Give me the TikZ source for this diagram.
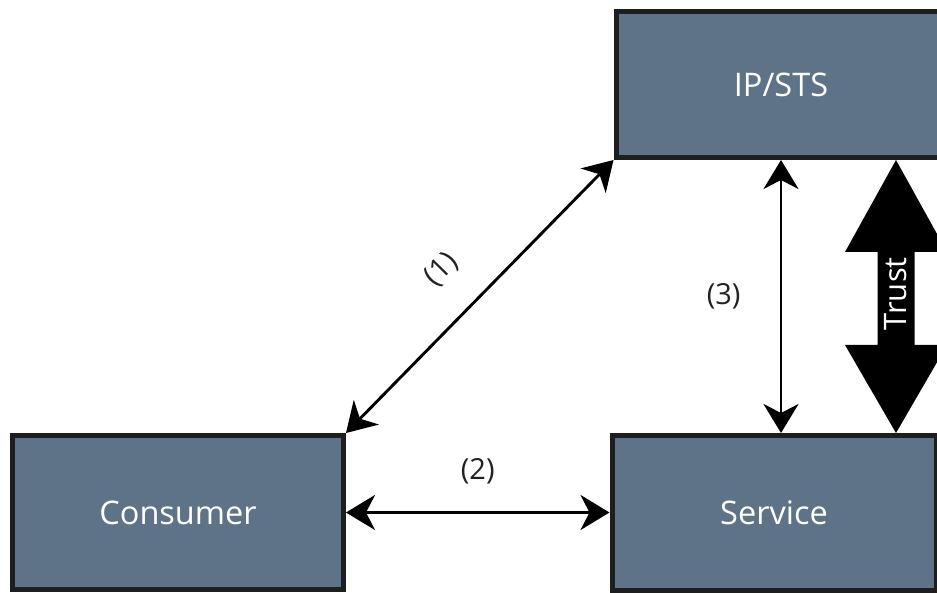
\documentclass[tikz,border=0pt]{standalone}
\usepackage{fontspec}
\setmainfont{Open Sans}
\usetikzlibrary{arrows.meta,calc}
\definecolor{boxfill}{HTML}{5E7388}
\definecolor{boxline}{HTML}{1E1E1E}
\definecolor{labelgray}{HTML}{222222}
\begin{document}
\begin{tikzpicture}[x=1pt,y=-1pt,
  box/.style={draw=boxline, line width=5pt, fill=boxfill, text=white,
    font=\fontsize{32.5}{38}\selectfont, inner sep=0pt},
  link/.style={line width=2.9pt, draw=black,
    {Stealth[length=29pt,width=35pt,inset=9pt]}-{Stealth[length=29pt,width=35pt,inset=9pt]}},
  lbl/.style={font=\fontsize{29}{34}\selectfont, text=labelgray, inner sep=0pt},
  trustlbl/.style={font=\fontsize{31}{36}\selectfont, text=white, inner sep=0pt}]
\useasboundingbox (0,0) rectangle (937,593);
\clip (0,0) rectangle (937,593);

% the three parties
\node[box, minimum width=330pt, minimum height=146pt] (ip) at (781,84.5) {IP/STS};
\node[box, minimum width=324pt, minimum height=155pt] (service) at (774,513) {Service};
\node[box, minimum width=331pt, minimum height=154pt] (consumer) at (178,512.5) {Consumer};

% message exchanges
\draw[link] (consumer.north east) -- node[lbl, sloped, pos=0.48, above=32pt] {(1)} (ip.south west);
\draw[link] (consumer.east) -- node[lbl, above=27pt] {(2)} (consumer.east -| service.west);
\draw[link] (ip.south) -- node[lbl, pos=0.5, left=39pt] {(3)} (ip.south |- service.north);

% trust relationship between IP/STS and Service
\coordinate (ttop) at (ip.south -| 896,0);
\coordinate (tbot) at (service.north -| 896,0);
\fill[black] (ttop) -- ($(ttop)+(51,92)$) -- ($(ttop)+(18.5,92)$)
  -- ($(tbot)+(18.5,-88)$) -- ($(tbot)+(51,-88)$) -- (tbot)
  -- ($(tbot)+(-51,-88)$) -- ($(tbot)+(-18.5,-88)$)
  -- ($(ttop)+(-18.5,92)$) -- ($(ttop)+(-51,92)$) -- cycle;
\node[trustlbl, rotate=90] (trust) at ($(ttop)!0.49!(tbot)$) {Trust};
\end{tikzpicture}
\end{document}
